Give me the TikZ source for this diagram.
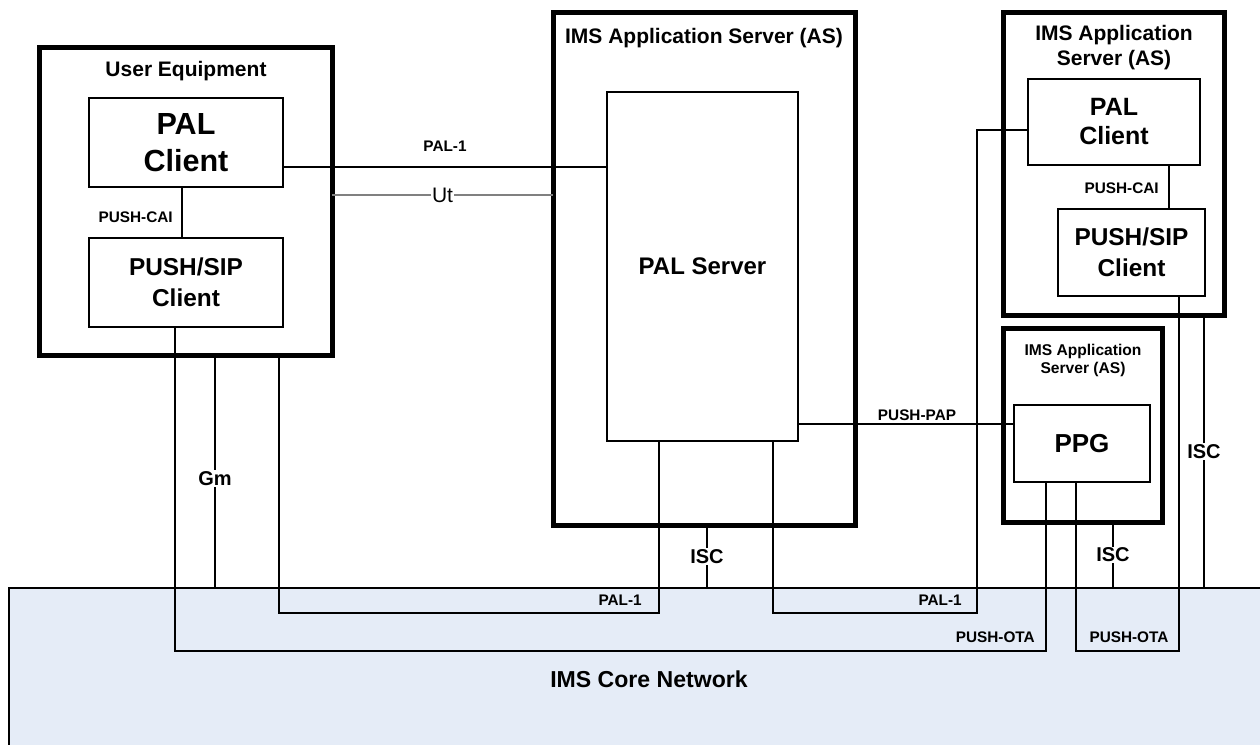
\documentclass[tikz,border=0pt]{standalone}
\usepackage{fontspec}
\setmainfont{Liberation Sans}
\usetikzlibrary{fit}
\definecolor{corefill}{HTML}{E5ECF7}
\definecolor{utgray}{HTML}{808080}
\newcommand\fsz[2]{\fontsize{#1}{#2}\selectfont}
\begin{document}
\begin{tikzpicture}[x=0.75pt,y=-0.75pt,
  outerbox/.style={draw, line width=3.75pt, inner sep=0pt, outer sep=0pt},
  innerbox/.style={draw, line width=2.1pt, inner sep=0pt, outer sep=0pt, align=center},
  sz/.style 2 args={minimum width=#1*0.75pt, minimum height=#2*0.75pt},
  corebox/.style={draw, line width=2pt, fill=corefill, inner sep=0pt, outer sep=0pt},
  conn/.style={line width=2.2pt},
  thinconn/.style={line width=1.1pt},
  utline/.style={line width=1pt, draw=utgray},
  lbl/.style={font=\bfseries\fsz{11.5}{13}, inner sep=0pt},
  title/.style={font=\bfseries\fsz{15.75}{19}, inner sep=0pt},
  smalltitle/.style={font=\bfseries\fsz{11.7}{14}, inner sep=0pt},
  ifc/.style={font=\bfseries\fsz{15}{18}, fill=white, inner sep=1pt},
]
\useasboundingbox (0,0) rectangle (1260,744);
\clip (0,0) rectangle (1260,744);

% core network
\node[corebox, fit={(9,588) (1290,780)}] (core) {};
\node[font=\bfseries\fsz{17.3}{20}, inner sep=0pt, anchor=base] (coret) at (649,687) {IMS Core Network};

% user equipment
\node[outerbox, fit={(39,47) (332,355)}] (ue) {};
\node[title, anchor=base] (uet) at (186,76) {User Equipment};
\node[innerbox, sz={194}{89}, font=\bfseries\fsz{22.9}{27.75}] (uepal) at (186,142.5) {PAL\\Client};
\node[innerbox, sz={194}{89}, font=\bfseries\fsz{18.3}{23.25}] (uesip) at (186,282.5) {PUSH/SIP\\Client};

% middle AS
\node[outerbox, fit={(553,12) (855,525)}] (as1) {};
\node[title, anchor=base] (as1t) at (704,43) {IMS Application Server (AS)};
\node[innerbox, sz={191}{349}, font=\bfseries\fsz{18}{22}] (palsrv) at (702.5,266.5) {PAL Server};

% right AS
\node[outerbox, fit={(1003,12) (1224,315)}] (as2) {};
\node[title, anchor=base] (as2ta) at (1114,40) {IMS Application};
\node[title, anchor=base] (as2tb) at (1114,65) {Server (AS)};
\node[innerbox, sz={172}{86}, font=\bfseries\fsz{18.75}{21.75}] (rpal) at (1114,122) {PAL\\Client};
\node[innerbox, sz={147}{87}, font=\bfseries\fsz{18.3}{23.25}] (rsip) at (1131.5,252.5) {PUSH/SIP\\Client};

% PPG AS
\node[outerbox, fit={(1003,328) (1162,522)}] (as3) {};
\node[smalltitle, anchor=base] (as3ta) at (1083,355) {IMS Application};
\node[smalltitle, anchor=base] (as3tb) at (1083,373) {Server (AS)};
\node[innerbox, sz={136}{77}, font=\bfseries\fsz{19.5}{24}] (ppg) at (1082,443.5) {PPG};

% connectors
\draw[conn] (uepal.south -| 182,0) -- (uesip.north -| 182,0);
\node[lbl, anchor=base east] (cai1) at (173,222) {PUSH-CAI};
\draw[thinconn] (rpal.south -| 1169,0) -- (rsip.north -| 1169,0);
\node[lbl, anchor=base east] (cai2) at (1159,193) {PUSH-CAI};

\draw[conn] (uepal.east |- 0,167) -- (palsrv.west |- 0,167);
\node[lbl, anchor=base] (pal1a) at (445,151) {PAL-1};
\draw[utline] (ue.east |- 0,195) -- node[fill=white, inner sep=0.5pt, font=\fsz{15.75}{18}] (ut) {Ut} (as1.west |- 0,195);

\draw[conn] (palsrv.east |- 0,424) -- (ppg.west |- 0,424);
\node[lbl, anchor=base] (pap) at (917,420) {PUSH-PAP};

\draw[thinconn] (ue.south -| 215,0) -- node[ifc, pos=0.53] (gm) {Gm} (core.north -| 215,0);
\draw[thinconn] (as1.south -| 707,0) -- node[ifc] (isc1) {ISC} (core.north -| 707,0);
\draw[thinconn] (as3.south -| 1113,0) -- node[ifc] (isc2) {ISC} (core.north -| 1113,0);
\draw[thinconn] (as2.south -| 1204,0) -- node[ifc] (isc3) {ISC} (core.north -| 1204,0);

\draw[conn] (ue.south -| 279,0) -- (279,613) -| (palsrv.south -| 659,0);
\node[lbl, anchor=base east] (pal1b) at (642,605) {PAL-1};
\draw[conn] (palsrv.south -| 773,0) -- (773,613) -- (977,613) |- (rpal.west |- 0,130);
\node[lbl, anchor=base east] (pal1c) at (962,605) {PAL-1};

\draw[conn] (uesip.south -| 175,0) -- (175,651) -| (ppg.south -| 1046,0);
\node[lbl, anchor=base east] (ota1) at (1035,642) {PUSH-OTA};
\draw[conn] (ppg.south -| 1076,0) -- (1076,651) -| (rsip.south -| 1179,0);
\node[lbl, anchor=base] (ota2) at (1129,642) {PUSH-OTA};
\end{tikzpicture}
\end{document}
